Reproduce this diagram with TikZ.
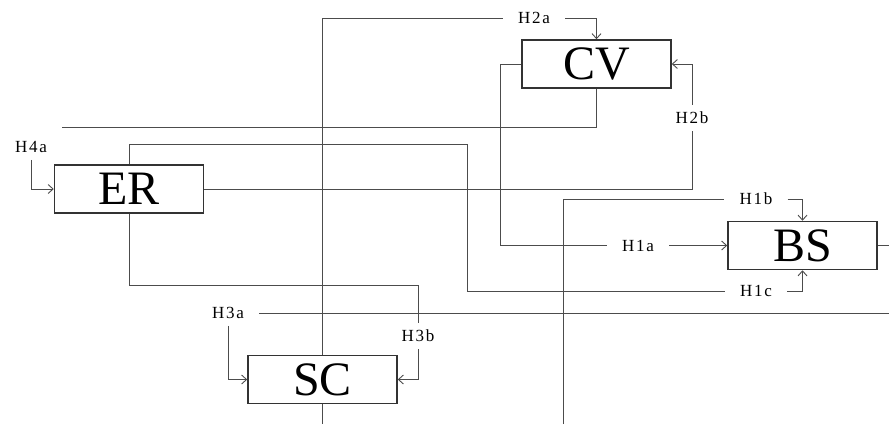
\documentclass[tikz,border=0pt]{standalone}
\usepackage{fontspec}
\setmainfont{Liberation Serif}
\newfontfamily\lblfont[LetterSpace=10]{Liberation Serif}
\usetikzlibrary{arrows.meta}
\begin{document}
\begin{tikzpicture}[x=1pt, y=-1pt, >={Straight Barb[length=5pt,width=9pt]},
  blk/.style={draw=black!80, line width=1.5pt, fill=white, minimum width=149pt, minimum height=48pt, inner sep=0pt, font=\fontsize{48}{48}\selectfont},
  hlbl/.style={inner xsep=15pt, inner ysep=7pt, font=\lblfont\fontsize{17}{17}\selectfont},
  wire/.style={draw=black!70, line width=0.9pt}]
  \useasboundingbox (0,0) rectangle (889,424);
  \node[blk] (cv) at (596.5,64) {CV};
  \node[blk] (er) at (129,189) {ER};
  \node[blk] (bs) at (802.5,245.5) {BS};
  \node[blk] (sc) at (322.5,379.5) {SC};
  \node[hlbl] (h2a) at (534,18) {H2a};
  \node[hlbl] (h2b) at (692,118) {H2b};
  \node[hlbl] (h1a) at (638,245.5) {H1a};
  \node[hlbl] (h1b) at (756,199) {H1b};
  \node[hlbl] (h1c) at (756,291) {H1c};
  \node[hlbl] (h3a) at (228,313) {H3a};
  \node[hlbl] (h3b) at (418,336) {H3b};
  \node[hlbl] (h4a) at (31,147) {H4a};
  \coordinate (cvout) at (62,127.5);
  \coordinate (bsout) at (889,245.5);
  \coordinate (scout) at (322.5,424);
  \coordinate (h3ain) at (889,313);
  \coordinate (h1bin) at (563,424);
  \draw[wire] (sc.north) |- (h2a.west); \draw[wire,->] (h2a.east) -| (cv.north);
  \draw[wire] (sc.south) -- (scout);
  \draw[wire] (cv.south) |- (cvout);
  \draw[wire] (cv.west) -- ++(-21,0) |- (h1a.west); \draw[wire,->] (h1a.east) -- (bs.west);
  \draw[wire] (er.east) -| (h2b.south); \draw[wire,->] (h2b.north) |- (cv.east);
  \draw[wire] (er.north) |- (467,144) |- (h1c.west); \draw[wire,->] (h1c.east) -| (bs.south);
  \draw[wire] (er.south) |- (418,285) -- (h3b.north); \draw[wire,->] (h3b.south) |- (sc.east);
  \draw[wire] (bs.east) -- (bsout);
  \draw[wire] (h3ain) -- (h3a.east); \draw[wire,->] (h3a.south) |- (sc.west);
  \draw[wire] (h1bin) |- (h1b.west); \draw[wire,->] (h1b.east) -| (bs.north);
  \draw[wire,->] (h4a.south) |- (er.west);
\end{tikzpicture}
\end{document}
